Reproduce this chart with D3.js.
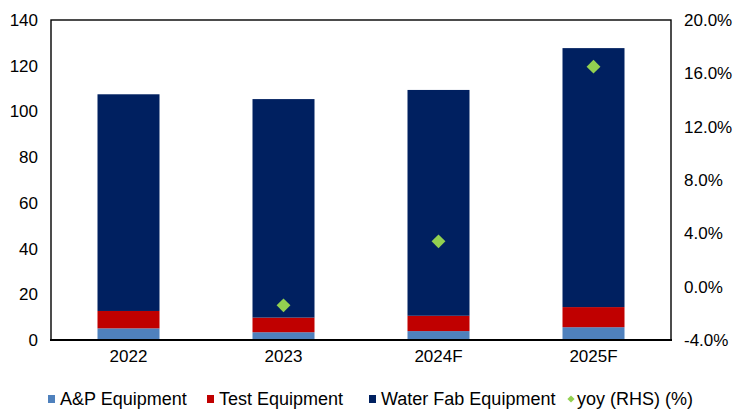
<!DOCTYPE html>
<html>
<head>
<meta charset="utf-8">
<script src="https://cdn.jsdelivr.net/npm/d3@7"></script>
<style>
  html, body { margin: 0; padding: 0; background: #fff; }
  svg { display: block; font-family: "Liberation Sans", Arial, sans-serif; }
</style>
</head>
<body>
<svg id="chart" width="737" height="412"></svg>
<script>
// Semiconductor equipment sales (USD bn) by segment, with year-on-year growth
const categories = ["2022", "2023", "2024F", "2025F"];
const apEquipment = [5.1, 3.4, 3.9, 5.6];
const testEquipment = [7.6, 6.4, 6.7, 8.8];
const waferFabEquipment = [94.8, 95.6, 98.8, 113.3];
const yoy = [null, -1.4, 3.4, 16.5];
const leftTicks = [0, 20, 40, 60, 80, 100, 120, 140];
const rightTicks = [-4, 0, 4, 8, 12, 16, 20];

const seriesNames = ["A&P Equipment", "Test Equipment", "Water Fab Equipment"];
const seriesColors = ["#4f81bd", "#c00000", "#002060"];
const yoyColor = "#92d050";

const svg = d3.select("#chart");
const plot = { left: 51, right: 671, top: 20, bottom: 340 };

const x = d3.scaleBand()
  .domain(categories)
  .range([plot.left, plot.right])
  .paddingInner(0.6)
  .paddingOuter(0.3);

const y = d3.scaleLinear().domain([0, 140]).range([plot.bottom, plot.top]);
const yRight = d3.scaleLinear().domain([-4, 20]).range([plot.bottom, plot.top]);

// stacked bars
const rows = categories.map((c, i) => ({
  cat: c,
  ap: apEquipment[i],
  test: testEquipment[i],
  wafer: waferFabEquipment[i]
}));
const stack = d3.stack().keys(["ap", "test", "wafer"]);
const layers = stack(rows);

svg.append("g").selectAll("g")
  .data(layers)
  .join("g")
  .attr("fill", (d, i) => seriesColors[i])
  .selectAll("rect")
  .data(d => d)
  .join("rect")
  .attr("x", d => x(d.data.cat))
  .attr("width", x.bandwidth())
  .attr("y", d => y(d[1]))
  .attr("height", d => y(d[0]) - y(d[1]));

// yoy markers on the right-hand axis
const diamond = d3.symbol().type(d3.symbolSquare).size(96);
svg.append("g").selectAll("path")
  .data(categories.map((c, i) => ({ cat: c, v: yoy[i] })).filter(d => d.v !== null))
  .join("path")
  .attr("d", diamond)
  .attr("fill", yoyColor)
  .attr("transform", d => `translate(${x(d.cat) + x.bandwidth() / 2},${yRight(d.v)}) rotate(45)`);

// plot frame
svg.append("rect")
  .attr("x", plot.left)
  .attr("y", plot.top)
  .attr("width", plot.right - plot.left)
  .attr("height", plot.bottom - plot.top)
  .attr("fill", "none")
  .attr("stroke", "#000")
  .attr("stroke-width", 1.4);
svg.append("line")
  .attr("x1", plot.left - 1).attr("x2", plot.right + 1)
  .attr("y1", plot.bottom).attr("y2", plot.bottom)
  .attr("stroke", "#000").attr("stroke-width", 2);

// axes
const fontSize = "17px";
const leftAxis = svg.append("g")
  .attr("transform", `translate(${plot.left},0)`)
  .call(d3.axisLeft(y).tickValues(leftTicks).tickSize(0).tickPadding(13).tickFormat(d3.format("d")));
const rightAxis = svg.append("g")
  .attr("transform", `translate(${plot.right},0)`)
  .call(d3.axisRight(yRight).tickValues(rightTicks).tickSize(0).tickPadding(13).tickFormat(d => d.toFixed(1) + "%"));
const bottomAxis = svg.append("g")
  .attr("transform", `translate(0,${plot.bottom})`)
  .call(d3.axisBottom(x).tickSize(0).tickPadding(10));

[leftAxis, rightAxis, bottomAxis].forEach(g => {
  g.select(".domain").remove();
  g.selectAll("text")
    .attr("fill", "#000")
    .style("font-size", fontSize)
    .style("font-family", "'Liberation Sans', Arial, sans-serif");
});

// legend
const legendItems = [
  { name: seriesNames[0], color: seriesColors[0], shape: "square", x: 48 },
  { name: seriesNames[1], color: seriesColors[1], shape: "square", x: 207 },
  { name: seriesNames[2], color: seriesColors[2], shape: "square", x: 369 },
  { name: "yoy (RHS) (%)", color: yoyColor, shape: "diamond", x: 567 }
];
const legendY = 399;
const legend = svg.append("g");
legendItems.forEach(item => {
  const g = legend.append("g").attr("transform", `translate(${item.x},${legendY})`);
  if (item.shape === "square") {
    g.append("rect").attr("x", 0).attr("y", -4).attr("width", 7).attr("height", 8).attr("fill", item.color);
  } else {
    g.append("path")
      .attr("d", d3.symbol().type(d3.symbolSquare).size(26)())
      .attr("transform", "translate(4,0) rotate(45)")
      .attr("fill", item.color);
  }
  g.append("text")
    .attr("x", item.shape === "square" ? 12 : 10)
    .attr("y", 0)
    .attr("dy", "0.35em")
    .attr("fill", "#000")
    .style("font-size", "18px")
    .text(item.name);
});
</script>
</body>
</html>
